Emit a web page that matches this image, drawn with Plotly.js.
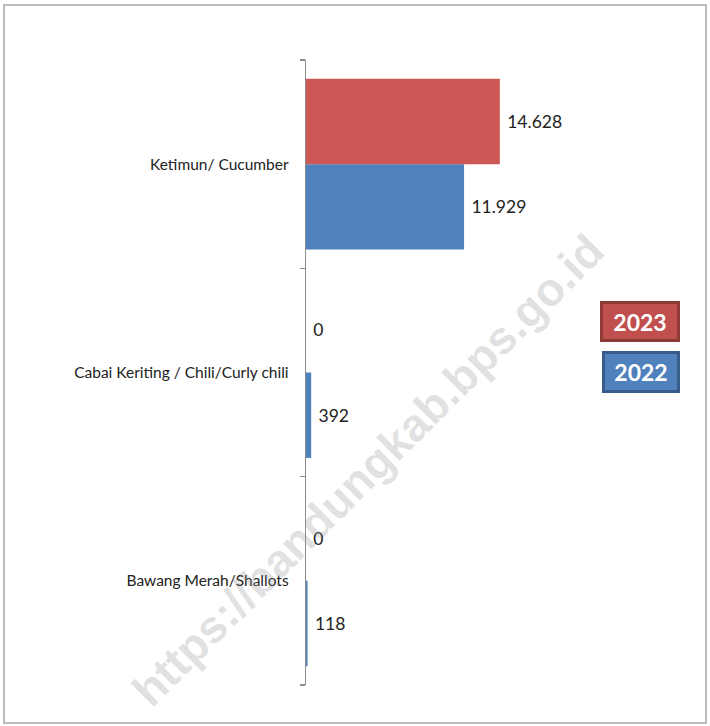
<!DOCTYPE html>
<html>
<head>
<meta charset="utf-8">
<script src="https://cdn.plot.ly/plotly-3.0.1.min.js"></script>
<style>
  html, body { margin: 0; padding: 0; background: #ffffff; }
  #chart { width: 710px; height: 726px; }
</style>
</head>
<body>
<div id="chart"></div>
<script>
// Categories listed bottom-to-top (Plotly draws the first category at the bottom)
const categories = ['Bawang Merah/Shallots', 'Cabai Keriting / Chili/Curly chili', 'Ketimun/ Cucumber'];
const values2022 = [118, 392, 11929];
const values2023 = [0, 0, 14628];
const seriesNames = ['2022', '2023'];
const watermarkText = 'https://bandungkab.bps.go.id';

const FONT = 'Lato, "DejaVu Sans Condensed", sans-serif';

function fmt(v) {
  return String(v).replace(/\B(?=(\d{3})+(?!\d))/g, '.');
}

const L = 306, T = 60, W = 265, H = 625;
function px(x) { return (x - L) / W; }
function py(y) { return (T + H - y) / H; }

const traces = [
  {
    type: 'bar', orientation: 'h', name: seriesNames[0],
    y: categories, x: values2022,
    marker: { color: '#4F81BD', line: { width: 0 } },
    text: values2022.map(v => '\u2005' + fmt(v)), textposition: 'outside',
    textfont: { family: FONT, size: 17.5, color: '#222222' },
    cliponaxis: false, hoverinfo: 'skip'
  },
  {
    type: 'bar', orientation: 'h', name: seriesNames[1],
    y: categories, x: values2023,
    marker: { color: '#CD5754', line: { width: 0 } },
    text: values2023.map(v => '\u2005' + fmt(v)), textposition: 'outside',
    textfont: { family: FONT, size: 17.5, color: '#222222' },
    cliponaxis: false, hoverinfo: 'skip'
  }
];

const layout = {
  width: 710, height: 726,
  margin: { l: L, r: 710 - L - W, t: T, b: 726 - T - H, pad: 0 },
  paper_bgcolor: '#ffffff', plot_bgcolor: '#ffffff',
  barmode: 'group', bargap: 0.18, bargroupgap: 0,
  showlegend: false,
  font: { family: FONT, size: 16, color: '#222222' },
  xaxis: {
    range: [0, 20000], showgrid: false, zeroline: false,
    showline: false, showticklabels: false, ticks: ''
  },
  yaxis: {
    type: 'category', categoryorder: 'array', categoryarray: categories,
    showline: true, linecolor: '#8c8c8c', linewidth: 1.3,
    ticks: 'outside', tickson: 'boundaries', ticklen: 5, tickcolor: '#8c8c8c',
    tickwidth: 1.3, ticklabelstandoff: 13,
    tickfont: { family: FONT, size: 15.5, color: '#222222' },
    showgrid: false, zeroline: false
  },
  shapes: [
    {
      type: 'rect', xref: 'paper', yref: 'paper',
      x0: px(4), x1: px(706), y0: py(723), y1: py(5),
      line: { color: '#a6a6a6', width: 1.5 }, fillcolor: 'rgba(0,0,0,0)', layer: 'below'
    }
  ],
  annotations: [
    {
      text: '<b>' + watermarkText + '</b>', xref: 'paper', yref: 'paper',
      x: px(368), y: py(470), xanchor: 'center', yanchor: 'middle',
      textangle: -45, showarrow: false,
      font: { family: 'Liberation Sans, Arial, sans-serif', size: 46, color: 'rgba(150,150,150,0.28)' }
    },
    {
      text: '<b>' + seriesNames[1] + '</b>', xref: 'paper', yref: 'paper',
      x: px(640), y: py(321), xanchor: 'center', yanchor: 'middle', showarrow: false,
      width: 72, height: 33, bgcolor: '#C0504D', bordercolor: '#8E3A38', borderwidth: 3,
      font: { family: FONT, size: 23, color: '#ffffff' }
    },
    {
      text: '<b>' + seriesNames[0] + '</b>', xref: 'paper', yref: 'paper',
      x: px(641), y: py(372), xanchor: 'center', yanchor: 'middle', showarrow: false,
      width: 70, height: 34, bgcolor: '#4F81BD', bordercolor: '#385D8A', borderwidth: 3,
      font: { family: FONT, size: 23, color: '#ffffff' }
    }
  ]
};

Plotly.newPlot('chart', traces, layout, { displayModeBar: false, staticPlot: true });
</script>
</body>
</html>
